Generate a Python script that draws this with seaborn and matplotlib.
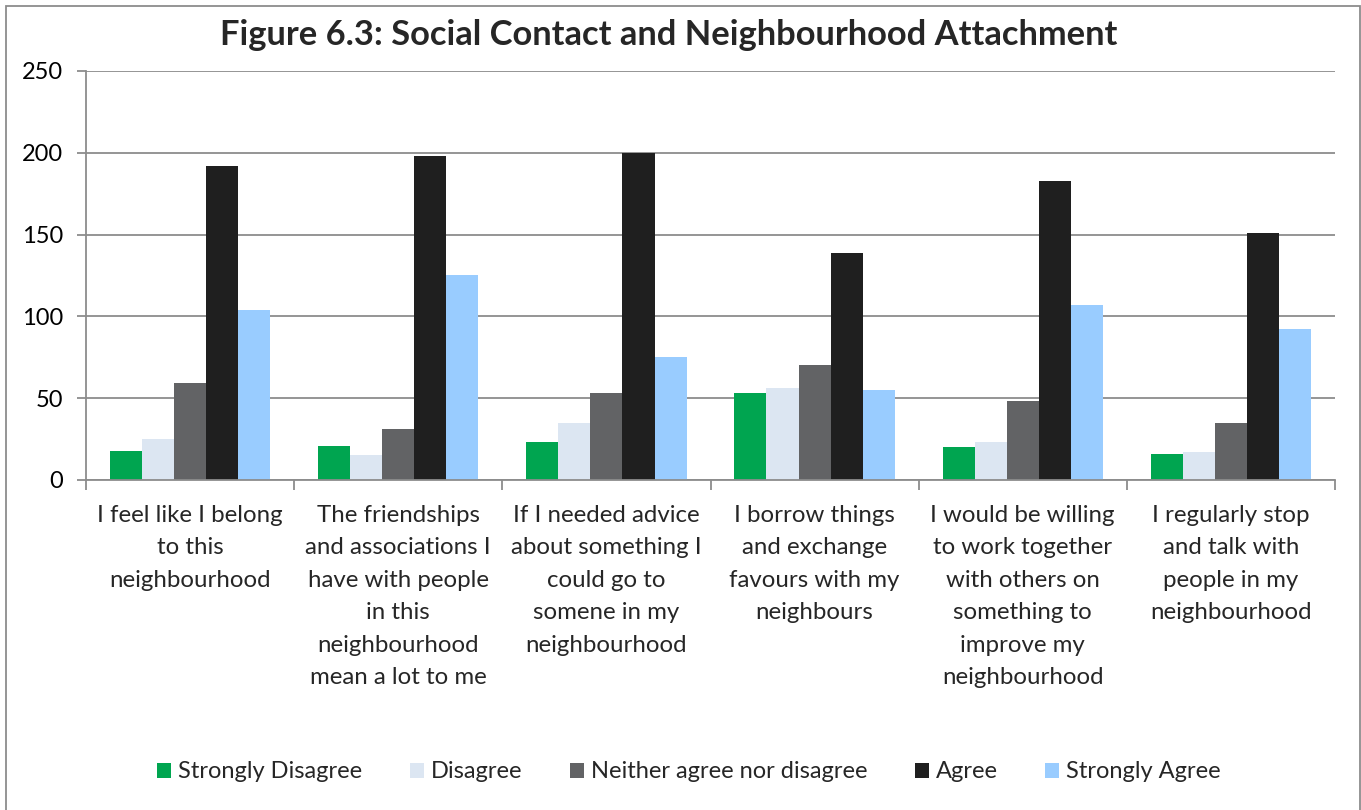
import matplotlib
matplotlib.use("Agg")
import matplotlib.pyplot as plt
from matplotlib.patches import Rectangle
import numpy as np
import pandas as pd
import seaborn as sns

categories = [
    "I feel like I belong\nto this\nneighbourhood",
    "The friendships\nand associations I\nhave with people\nin this\nneighbourhood\nmean a lot to me",
    "If I needed advice\nabout something I\ncould go to\nsomene in my\nneighbourhood",
    "I borrow things\nand exchange\nfavours with my\nneighbours",
    "I would be willing\nto work together\nwith others on\nsomething to\nimprove my\nneighbourhood",
    "I regularly stop\nand talk with\npeople in my\nneighbourhood",
]
responses = ["Strongly Disagree", "Disagree", "Neither agree nor disagree",
             "Agree", "Strongly Agree"]
strongly_disagree = [18, 21, 23, 53, 20, 16]
disagree = [25, 15, 35, 56, 23, 17]
neither = [59, 31, 53, 70, 48, 35]
agree = [192, 198, 200, 139, 183, 151]
strongly_agree = [104, 125, 75, 55, 107, 92]
colors = ["#00A550", "#DCE6F2", "#626365", "#1F1F1F", "#99CCFF"]

series = [strongly_disagree, disagree, neither, agree, strongly_agree]
df = pd.DataFrame({
    "statement": np.tile(categories, len(responses)),
    "response": np.repeat(responses, len(categories)),
    "count": np.concatenate(series),
})

sns.set_theme(style="white")
plt.rcParams["font.family"] = ["Lato", "DejaVu Sans"]

W, H = 1361, 810
fig = plt.figure(figsize=(W / 100, H / 100), dpi=100)
ax = fig.add_axes([86 / W, 1 - 480 / H, (1335 - 86) / W, (480 - 71) / H])

sns.barplot(data=df, x="statement", y="count", hue="response",
            order=categories, hue_order=responses, palette=colors,
            width=0.77, gap=0, linewidth=0, saturation=1, ax=ax,
            errorbar=None, legend=True)

ax.set_ylim(0, 250)
ax.set_xlim(-0.5, len(categories) - 0.5)
ax.set_yticks(range(0, 251, 50))
ax.yaxis.grid(True, color="#8c8c8c", linewidth=1.3)
ax.set_axisbelow(True)
ax.set_xlabel("")
ax.set_ylabel("")

for side in ["top", "right"]:
    ax.spines[side].set_visible(False)
for side in ["left", "bottom"]:
    ax.spines[side].set_color("#8c8c8c")
    ax.spines[side].set_linewidth(1.3)

ax.tick_params(axis="y", which="major", length=6.5, width=1.3, color="#8c8c8c",
               labelsize=17, labelcolor="black", pad=10, left=True)
ax.set_xticks(range(len(categories)))
ax.set_xticklabels(categories, fontsize=17.3, linespacing=1.67, va="top")
ax.tick_params(axis="x", which="major", length=0, pad=18)
ax.set_xticks(np.arange(-0.5, len(categories), 1.0), minor=True)
ax.tick_params(axis="x", which="minor", length=7, width=1.3, color="#8c8c8c",
               bottom=True)

handles, labels = ax.get_legend_handles_labels()
ax.get_legend().remove()
fig.legend(handles, labels, loc="center", bbox_to_anchor=(689 / W, 1 - 772 / H),
           ncol=5, frameon=False, fontsize=17, handlelength=0.6,
           handleheight=0.6, handletextpad=0.3, columnspacing=2.0)

fig.suptitle("Figure 6.3: Social Contact and Neighbourhood Attachment",
             x=669 / W, y=1 - 35 / H, fontsize=24.8, fontweight="bold",
             va="center")

fig.patches.append(Rectangle((6 / W, -0.01), (1360 - 6) / W, 1 - 6 / H + 0.01,
                             transform=fig.transFigure, fill=False,
                             edgecolor="#8c8c8c", linewidth=1.3))

fig.savefig("out.png", dpi=100)
